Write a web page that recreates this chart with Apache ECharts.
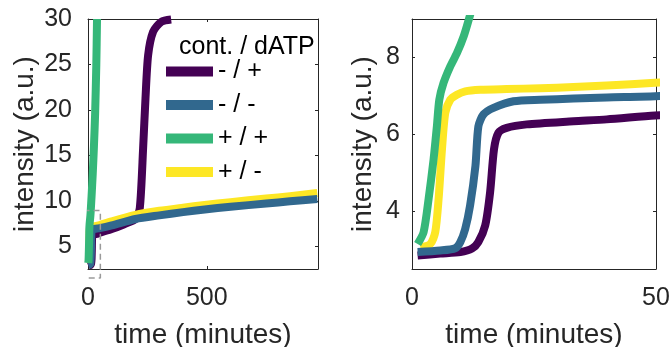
<!DOCTYPE html>
<html>
<head>
<meta charset="utf-8">
<script src="https://cdn.jsdelivr.net/npm/echarts@6/dist/echarts.min.js"></script>
<style>
html,body{margin:0;padding:0;background:#fff;}
#c{width:670px;height:347px;}
</style>
</head>
<body>
<div id="c"></div>
<script>
// ---- data (time in minutes, intensity in a.u.) ----
const seriesNames = ['- / +', '- / -', '+ / +', '+ / -'];
const legendTitle = 'cont. / dATP';
const xName = 'time (minutes)';
const yName = 'intensity (a.u.)';

// - / +  (purple)
const tMinusPlus = [1.15, 5.8, 9.9, 12.3, 13.6, 15, 16, 16.8, 17.7, 19.4, 23.5, 33.1, 39.9, 49.8, 100, 150, 200, 218, 232, 242, 253, 274, 309, 350];
const yMinusPlus = [2.85, 2.9, 2.94, 3.03, 3.2, 3.63, 4.49, 5.61, 6.04, 6.17, 6.26, 6.34, 6.39, 6.49, 6.9, 7.4, 8.0, 9.2, 15.8, 21.3, 26.0, 28.6, 29.7, 29.95];
// - / -  (blue)
const tMinusMinus = [1.15, 5.8, 8.86, 9.9, 10.9, 11.9, 13, 13.6, 14.65, 16.7, 20.8, 26.3, 33.1, 39.9, 49.8, 100, 200, 300, 400, 491, 600, 750, 850, 965];
const yMinusMinus = [2.94, 2.98, 3.04, 3.2, 3.54, 4.15, 5.18, 6.21, 6.52, 6.69, 6.86, 6.9, 6.93, 6.96, 6.99, 7.3, 8.0, 8.4, 8.76, 9.04, 9.35, 9.7, 9.95, 10.2];
// + / +  (green)
const tPlusPlus = [1.15, 2.38, 3.4, 4.42, 5.1, 5.59, 6.47, 7.84, 9.2, 10.57, 11.6, 15, 20, 25, 30, 35, 38];
const yPlusPlus = [3.15, 3.46, 4.32, 5.35, 6.21, 6.9, 7.34, 7.77, 8.11, 8.54, 8.97, 10.5, 13, 16, 19.6, 25, 30];
// + / -  (yellow)
const tPlusMinus = [1.7, 3.75, 4.77, 5.45, 6.14, 6.82, 7.84, 9.2, 10.9, 14, 19.4, 26.3, 33.1, 39.9, 49.8, 100, 200, 300, 400, 491, 600, 750, 850, 965];
const yPlusMinus = [3.07, 3.15, 3.46, 4.32, 5.61, 6.56, 6.9, 7.03, 7.12, 7.16, 7.18, 7.2, 7.23, 7.27, 7.34, 7.75, 8.45, 8.9, 9.25, 9.55, 9.85, 10.25, 10.5, 10.85];

// zoom region indicator (dashed box on the left panel)
const zoomBoxT = [-39, 52, 52, -39, -39];
const zoomBoxY = [1.5, 1.5, 8.93, 8.93, 1.5];

// axes
const leftXRange = [0, 968];
const leftYRange = [2.5, 30];
const rightXRange = [0, 50];
const rightYRange = [2.5, 9];
const leftXTicks = [0, 500];
const leftYTicks = [5, 10, 15, 20, 25, 30];
const rightXTicks = [0, 50];
const rightYTicks = [4, 6, 8];

const colors = {'- / +': '#440154', '- / -': '#31688e', '+ / +': '#35b779', '+ / -': '#fde725'};

// ---- build ----
const zip = (a, b) => a.map((v, i) => [v, b[i]]);
const seriesData = {
  '- / +': zip(tMinusPlus, yMinusPlus),
  '- / -': zip(tMinusMinus, yMinusMinus),
  '+ / +': zip(tPlusPlus, yPlusPlus),
  '+ / -': zip(tPlusMinus, yPlusMinus)
};
const drawOrder = ['- / +', '+ / -', '- / -', '+ / +'];
const FONT = '"Liberation Sans", Arial, Helvetica, sans-serif';
const AX = '#262626';

function xAxisPair(gridIndex, range, ticks, nameGap) {
  return [
    {
      type: 'value', gridIndex, position: 'bottom', min: range[0], max: range[1],
      name: xName, nameLocation: 'middle', nameGap,
      nameTextStyle: {fontSize: 28, color: AX, fontFamily: FONT},
      axisLine: {show: true, onZero: false, lineStyle: {color: AX, width: 1}},
      axisTick: {show: true, inside: true, length: 3, customValues: ticks, lineStyle: {color: AX}},
      axisLabel: {show: true, customValues: ticks, fontSize: 25, color: AX, fontFamily: FONT, margin: 17},
      splitLine: {show: false}
    },
    {
      type: 'value', gridIndex, position: 'top', min: range[0], max: range[1],
      axisLine: {show: true, onZero: false, lineStyle: {color: AX, width: 1}},
      axisTick: {show: true, inside: true, length: 3, customValues: ticks, lineStyle: {color: AX}},
      axisLabel: {show: false},
      splitLine: {show: false}
    }
  ];
}
function yAxisPair(gridIndex, range, ticks, nameGap, margin) {
  return [
    {
      type: 'value', gridIndex, position: 'left', min: range[0], max: range[1],
      name: yName, nameLocation: 'middle', nameGap, nameRotate: 90,
      nameTextStyle: {fontSize: 28, color: AX, fontFamily: FONT},
      axisLine: {show: true, onZero: false, lineStyle: {color: AX, width: 1}},
      axisTick: {show: true, inside: true, length: 3, customValues: ticks, lineStyle: {color: AX}},
      axisLabel: {show: true, customValues: ticks, fontSize: 25, color: AX, fontFamily: FONT, margin},
      splitLine: {show: false}
    },
    {
      type: 'value', gridIndex, position: 'right', min: range[0], max: range[1],
      axisLine: {show: true, onZero: false, lineStyle: {color: AX, width: 1}},
      axisTick: {show: true, inside: true, length: 3, customValues: ticks, lineStyle: {color: AX}},
      axisLabel: {show: false},
      splitLine: {show: false}
    }
  ];
}

const series = [];
[[0, 0], [2, 2]].forEach(([xi, yi]) => {
  drawOrder.forEach(name => {
    series.push({
      type: 'line', name, xAxisIndex: xi, yAxisIndex: yi,
      data: seriesData[name], showSymbol: false, symbol: 'none',
      smooth: 0.25, clip: true,
      color: colors[name],
      itemStyle: {color: colors[name]},
      lineStyle: {color: colors[name], width: 8, cap: 'butt', join: 'round'},
      emphasis: {disabled: true}, silent: true
    });
  });
});
series.push({
  type: 'line', name: 'zoom', xAxisIndex: 0, yAxisIndex: 0,
  data: zip(zoomBoxT, zoomBoxY), showSymbol: false, symbol: 'none', clip: false,
  lineStyle: {color: '#9a9a9a', width: 1.5, type: [6, 4]},
  silent: true, z: 3
});

const option = {
  animation: false,
  backgroundColor: '#ffffff',
  grid: [
    {left: 88, top: 19, width: 230, height: 250, containLabel: false, outerBoundsMode: 'none'},
    {left: 412, top: 19, width: 244, height: 250, containLabel: false, outerBoundsMode: 'none'}
  ],
  xAxis: [...xAxisPair(0, leftXRange, leftXTicks, 52), ...xAxisPair(1, rightXRange, rightXTicks, 52)],
  yAxis: [...yAxisPair(0, leftYRange, leftYTicks, 49, 16), ...yAxisPair(1, rightYRange, rightYTicks, 35, 12)],
  title: {
    text: legendTitle, left: 174, top: 29,
    textStyle: {fontSize: 25, fontWeight: 'normal', color: '#000', fontFamily: FONT, lineHeight: 26}
  },
  legend: {
    data: seriesNames, orient: 'vertical', left: 166, top: 59,
    icon: 'rect', itemWidth: 47, itemHeight: 10, itemGap: 8.5,
    textStyle: {fontSize: 25, color: '#000', fontFamily: FONT, lineHeight: 25},
    selectedMode: false, padding: 0
  },
  series
};
const chart = echarts.init(document.getElementById('c'), null, {renderer: 'canvas'});
chart.setOption(option);
</script>
</body>
</html>
